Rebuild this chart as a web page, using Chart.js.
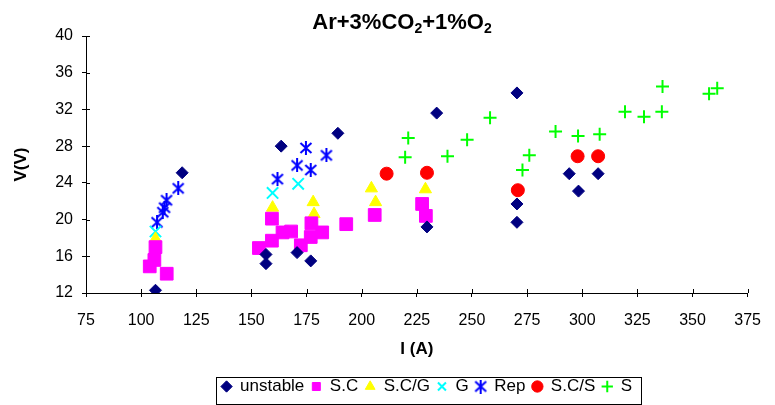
<!DOCTYPE html>
<html>
<head>
<meta charset="utf-8">
<script src="https://cdn.jsdelivr.net/npm/chart.js@4"></script>
<style>
  html, body { margin: 0; padding: 0; background: #fff; }
</style>
</head>
<body>
<canvas id="chart" width="775" height="405"></canvas>
<script>
// readings from the plot, I in A and V in volts
const unstableI = [106.5, 118.6, 156.6, 156.6, 163.5, 170.7, 176.9, 189.2, 229.6, 234.0, 270.4, 270.4, 270.4, 294.1, 298.3, 307.2];
const unstableV = [12.3, 25.1, 16.2, 15.2, 28.0, 16.4, 15.5, 29.4, 19.2, 31.6, 33.8, 21.7, 19.7, 25.0, 23.1, 25.0];

const scI = [103.9, 106.0, 106.5, 111.6, 153.4, 159.3, 159.3, 164.1, 168.0, 172.4, 176.9, 177.2, 182.1, 193.0, 205.9, 227.4, 229.1];
const scV = [14.9, 15.6, 17.0, 14.1, 16.9, 20.1, 17.7, 18.6, 18.7, 17.2, 18.1, 19.6, 18.6, 19.5, 20.5, 21.7, 20.4];

const scgI = [106.5, 159.6, 178.0, 178.4, 204.4, 206.3, 228.9];
const scgV = [17.9, 21.3, 21.9, 20.6, 23.4, 21.9, 23.3];

const gI = [106.5, 159.6, 171.2];
const gV = [18.7, 22.9, 23.9];

const repI = [107.2, 109.8, 110.6, 111.5, 116.8, 161.8, 170.7, 174.7, 176.9, 184.0];
const repV = [19.7, 20.8, 21.3, 22.1, 23.4, 24.4, 25.9, 27.8, 25.4, 27.0];

const scsI = [211.3, 229.6, 270.8, 297.9, 307.2];
const scsV = [25.0, 25.1, 23.2, 26.9, 26.9];

const sI = [219.7, 221.1, 238.9, 247.8, 258.2, 272.9, 276.0, 287.9, 298.1, 307.9, 319.4, 328.0, 336.1, 336.4, 357.5, 361.2];
const sV = [26.8, 28.9, 26.9, 28.7, 31.1, 25.4, 27.0, 29.6, 29.1, 29.3, 31.75, 31.2, 31.75, 34.5, 33.7, 34.3];

const xTicks = [75, 100, 125, 150, 175, 200, 225, 250, 275, 300, 325, 350, 375];
const yTicks = [12, 16, 20, 24, 28, 32, 36, 40];

const FONT = "'Liberation Sans', Arial, sans-serif";

const toPoints = (xs, ys) => xs.map((x, i) => ({ x, y: ys[i] }));

const series = (label, xs, ys, color, style, radius, width) => ({
  label,
  data: toPoints(xs, ys),
  pointStyle: style,
  pointRadius: radius,
  pointHoverRadius: radius,
  backgroundColor: color,
  borderColor: color,
  pointBorderWidth: width,
  borderWidth: width,
  showLine: false
});

// Excel "star" marker: a vertical bar plus an X (six arms, not eight)
const excelStar = (() => {
  const c = document.createElement("canvas");
  c.width = 14;
  c.height = 14;
  const g = c.getContext("2d");
  g.strokeStyle = "#0000FF";
  g.lineWidth = 2;
  g.beginPath();
  g.moveTo(7, 0); g.lineTo(7, 14);
  g.moveTo(1.5, 2); g.lineTo(12.5, 12);
  g.moveTo(12.5, 2); g.lineTo(1.5, 12);
  g.stroke();
  return c;
})();

// Excel style ticks cross the axis, Chart.js only draws the outer half
const innerTicks = {
  id: "innerTicks",
  afterDraw(chart) {
    const { ctx, scales } = chart;
    const x = scales.x, y = scales.y;
    ctx.save();
    ctx.strokeStyle = "#000";
    ctx.lineWidth = 1;
    ctx.beginPath();
    xTicks.forEach((v) => {
      const px = Math.round(x.getPixelForValue(v)) + 0.5;
      ctx.moveTo(px, y.bottom);
      ctx.lineTo(px, y.bottom - 4);
    });
    yTicks.forEach((v) => {
      const py = Math.round(y.getPixelForValue(v)) + 0.5;
      ctx.moveTo(x.left, py);
      ctx.lineTo(x.left + 4, py);
    });
    ctx.stroke();
    ctx.restore();
  }
};

// title with real subscripts
const titlePlugin = {
  id: "subTitle",
  afterDraw(chart) {
    const ctx = chart.ctx;
    const parts = [["Ar+3%CO", 0], ["2", 1], ["+1%O", 0], ["2", 1]];
    const big = "bold 22px " + FONT, small = "bold 14px " + FONT;
    ctx.save();
    let total = 0;
    parts.forEach(([t, sub]) => { ctx.font = sub ? small : big; total += ctx.measureText(t).width; });
    let x = 402 - total / 2;
    ctx.fillStyle = "#000";
    ctx.textBaseline = "alphabetic";
    parts.forEach(([t, sub]) => {
      ctx.font = sub ? small : big;
      ctx.fillText(t, x, sub ? 33 : 29);
      x += ctx.measureText(t).width;
    });
    ctx.restore();
  }
};

// nudge the legend a bit right of the plot centre, then frame it
const legendBox = {
  id: "legendBox",
  afterLayout(chart) {
    chart.legend.left += 10;
    chart.legend.right += 10;
  },
  afterDraw(chart) {
    const boxes = chart.legend.legendHitBoxes;
    if (!boxes.length) return;
    const left = Math.min(...boxes.map((b) => b.left));
    const right = Math.max(...boxes.map((b) => b.left + b.width));
    const ctx = chart.ctx;
    ctx.save();
    ctx.strokeStyle = "#000";
    ctx.lineWidth = 1;
    ctx.strokeRect(Math.round(left - 6) + 0.5, 377.5, Math.round(right - left + 14), 27);
    ctx.restore();
  }
};

new Chart(document.getElementById("chart"), {
  type: "scatter",
  data: {
    datasets: [
      series("unstable", unstableI, unstableV, "#000080", "rectRot", 6, 1),
      series("S.C", scI, scV, "#FF00FF", "rect", 9, 1),
      series("S.C/G", scgI, scgV, "#FFFF00", "triangle", 7, 1),
      series("G", gI, gV, "#00FFFF", "crossRot", 8, 2),
      series("Rep", repI, repV, "#0000FF", excelStar, 7, 2),
      series("S.C/S", scsI, scsV, "#FF0000", "circle", 6.5, 1),
      series("S", sI, sV, "#00FF00", "cross", 6.5, 2)
    ]
  },
  options: {
    responsive: false,
    animation: false,
    layout: { padding: { top: 36, right: 15, bottom: 0, left: 0 } },
    plugins: {
      title: { display: false },
      tooltip: { enabled: false },
      legend: {
        position: "bottom",
        fullSize: false,
        labels: {
          usePointStyle: true,
          boxWidth: 10,
          boxHeight: 8,
          padding: 7,
          color: "#000",
          font: { family: FONT, size: 17 }
        }
      }
    },
    scales: {
      x: {
        type: "linear",
        min: 75,
        max: 375,
        afterFit: (s) => { s.height = 78; },
        afterBuildTicks: (s) => { s.ticks = xTicks.map((v) => ({ value: v })); },
        ticks: { color: "#000", padding: 14, maxRotation: 0, font: { family: FONT, size: 16 } },
        grid: { drawOnChartArea: false, color: "#000", tickLength: 4 },
        border: { color: "#000" },
        title: {
          display: true,
          text: "I (A)",
          color: "#000",
          padding: { top: 4, bottom: 11 },
          font: { family: FONT, size: 17, weight: "bold" }
        }
      },
      y: {
        type: "linear",
        min: 12,
        max: 40,
        afterFit: (s) => { s.width = 86; },
        afterBuildTicks: (s) => { s.ticks = yTicks.map((v) => ({ value: v })); },
        ticks: { color: "#000", padding: 9, font: { family: FONT, size: 16 } },
        grid: { drawOnChartArea: false, color: "#000", tickLength: 4 },
        border: { color: "#000" },
        title: {
          display: true,
          text: "V(V)",
          color: "#000",
          padding: { top: 11, bottom: 0 },
          font: { family: FONT, size: 17, weight: "bold" }
        }
      }
    }
  },
  plugins: [innerTicks, titlePlugin, legendBox]
});
</script>
</body>
</html>
